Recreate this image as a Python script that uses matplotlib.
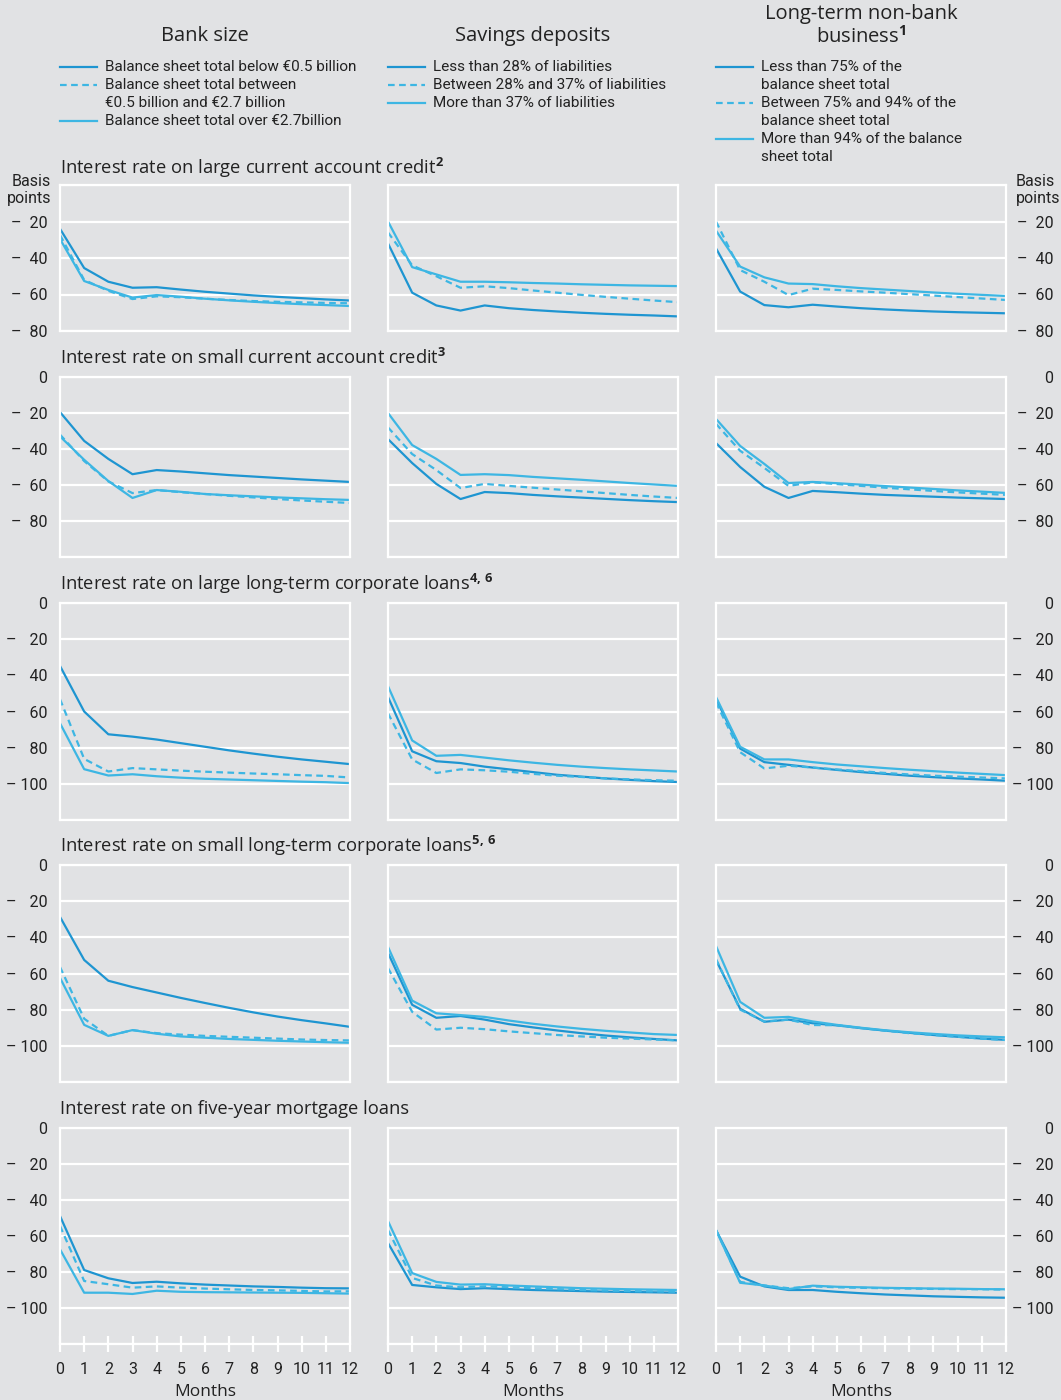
import matplotlib
matplotlib.use('Agg')
import matplotlib.pyplot as plt
from matplotlib.lines import Line2D

W, H = 1061, 1400
BG = '#e1e2e4'
DARK = '#1e95d1'
LIGHT = '#3db6e3'
INK = '#222222'
TITLE_FONT = ['Open Sans', 'DejaVu Sans']
NARROW_FONT = ['Roboto', 'DejaVu Sans']

months = list(range(13))

# column headers and legend labels
col_titles = ['Bank size', 'Savings deposits', 'Long-term non-bank\nbusiness$^\\mathbf{1}$']
size_labels = ['Balance sheet total below €0.5 billion',
               'Balance sheet total between\n€0.5 billion and €2.7 billion',
               'Balance sheet total over €2.7billion']
savings_labels = ['Less than 28% of liabilities',
                  'Between 28% and 37% of liabilities',
                  'More than 37% of liabilities']
nonbank_labels = ['Less than 75% of the\nbalance sheet total',
                  'Between 75% and 94% of the\nbalance sheet total',
                  'More than 94% of the balance\nsheet total']

row_titles = ['Interest rate on large current account credit$^\\mathbf{2}$',
              'Interest rate on small current account credit$^\\mathbf{3}$',
              'Interest rate on large long-term corporate loans$^\\mathbf{4,\\,6}$',
              'Interest rate on small long-term corporate loans$^\\mathbf{5,\\,6}$',
              'Interest rate on five-year mortgage loans']

# each panel: [first solid, dashed, second solid], basis points
large_cur_size = [
    [-24, -45.5, -53, -56.3, -56, -57.3, -58.5, -59.5, -60.5, -61.3, -62, -62.7, -63.3],
    [-27.4, -52, -58, -62.5, -61, -61.5, -62.3, -63, -63.6, -64, -64.3, -64.6, -64.8],
    [-29.6, -52.6, -57.5, -61.7, -60.3, -61.2, -62.3, -63.2, -64, -64.7, -65.3, -65.8, -66.3],
]
large_cur_savings = [
    [-32, -59, -66, -68.8, -66, -67.5, -68.5, -69.3, -70, -70.6, -71.1, -71.5, -72],
    [-26, -44, -50, -56.3, -55.5, -56.5, -57.8, -59, -60.2, -61.3, -62.3, -63.3, -64.2],
    [-20, -45, -49, -53, -53, -53.3, -53.7, -54, -54.4, -54.7, -55, -55.2, -55.4],
]
large_cur_nonbank = [
    [-34.7, -58.4, -65.8, -67, -65.6, -66.6, -67.5, -68.2, -68.8, -69.3, -69.7, -70, -70.3],
    [-20, -46.6, -53, -60.3, -56.8, -57.5, -58.3, -59, -59.8, -60.6, -61.4, -62.2, -63],
    [-25, -44.7, -50.6, -54, -54.3, -55.5, -56.5, -57.3, -58.1, -58.9, -59.6, -60.2, -60.8],
]
small_cur_size = [
    [-19.5, -35.5, -45.5, -54, -51.7, -52.5, -53.5, -54.5, -55.3, -56.1, -56.9, -57.6, -58.3],
    [-32, -46.7, -58, -64.5, -62.8, -64, -65, -66, -66.9, -67.8, -68.6, -69.3, -70],
    [-33, -46, -57.8, -67.2, -62.8, -63.8, -65, -65.7, -66.3, -66.9, -67.4, -67.9, -68.3],
]
small_cur_savings = [
    [-34.5, -47.8, -59.4, -67.8, -63.9, -64.5, -65.5, -66.3, -67, -67.7, -68.4, -69, -69.5],
    [-28, -42.8, -51.7, -61.7, -59.4, -60.5, -61.5, -62.5, -63.5, -64.5, -65.5, -66.4, -67.2],
    [-20, -37.8, -45.5, -54.4, -54, -54.5, -55.5, -56.3, -57.1, -58, -58.9, -59.7, -60.5],
]
small_cur_nonbank = [
    [-36.7, -50, -61, -67.2, -63.3, -64, -64.8, -65.5, -66, -66.5, -67, -67.4, -67.8],
    [-26, -41, -50.5, -60.5, -58.5, -59.5, -60.5, -61.5, -62.4, -63.3, -64.1, -64.8, -65.5],
    [-23.3, -38.3, -48.3, -58.9, -58.3, -59, -59.8, -60.6, -61.4, -62.2, -63, -63.7, -64.4],
]
large_lt_size = [
    [-34.8, -60, -72.6, -73.9, -75.5, -77.5, -79.5, -81.5, -83.3, -85, -86.5, -87.8, -89.1],
    [-53.2, -86.2, -93.2, -91.3, -92, -92.7, -93.3, -93.8, -94.3, -94.7, -95.2, -95.6, -96.5],
    [-66.5, -91.9, -95.4, -94.7, -95.8, -96.6, -97.2, -97.6, -98, -98.4, -98.8, -99.1, -99.6],
]
large_lt_savings = [
    [-52, -82, -87.5, -88.5, -90.5, -92, -93.5, -95, -96, -97, -97.8, -98.5, -99],
    [-61, -86.5, -94, -92, -92.5, -93.3, -94.5, -95.5, -96.2, -97, -97.5, -98, -98.3],
    [-46, -76, -84.5, -84, -85.5, -87, -88.3, -89.5, -90.5, -91.3, -92, -92.6, -93.2],
]
large_lt_nonbank = [
    [-53, -80.5, -88, -89.5, -91, -92.3, -93.5, -94.5, -95.5, -96.3, -97, -97.6, -98.3],
    [-55, -82.5, -91.5, -90, -91, -92, -93, -94, -94.8, -95.5, -96, -96.5, -97],
    [-52, -79.5, -86.5, -86.5, -88, -89.3, -90.3, -91.3, -92.2, -93, -93.8, -94.5, -95.2],
]
small_lt_size = [
    [-28.7, -52.5, -64, -67.5, -70.5, -73.5, -76.3, -79, -81.5, -83.8, -85.8, -87.6, -89.5],
    [-56.4, -85, -94.5, -91.3, -93, -93.8, -94.5, -95, -95.5, -96, -96.5, -96.8, -97],
    [-62.4, -88.4, -94.5, -91.3, -93.3, -94.8, -95.5, -96.2, -96.7, -97.2, -97.6, -98, -98.3],
]
small_lt_savings = [
    [-48.6, -77.3, -84.5, -83.5, -85.5, -88, -89.8, -91.5, -93, -94.3, -95.3, -96.2, -97],
    [-57, -81.2, -91, -90, -90.8, -92, -93, -94, -94.8, -95.5, -96, -96.5, -97],
    [-45.3, -75, -82, -83, -84, -86, -87.8, -89.3, -90.6, -91.7, -92.6, -93.5, -94],
]
small_lt_nonbank = [
    [-52.5, -79.5, -86.7, -85.5, -87.5, -88.7, -90.2, -91.6, -92.8, -94, -95, -96, -96.7],
    [-52, -80, -86.5, -85.5, -88.5, -88.6, -90.2, -91.6, -93, -94, -95, -96, -96.8],
    [-44.8, -75.7, -84.5, -84, -86.5, -88.4, -90, -91.4, -92.5, -93.4, -94.2, -94.8, -95.3],
]
mortgage_size = [
    [-48.9, -78.9, -83.5, -86.1, -85.4, -86.3, -87, -87.5, -88, -88.3, -88.7, -89, -89.1],
    [-54.4, -85, -86.8, -88.7, -88, -88.7, -89.2, -89.6, -90, -90.2, -90.5, -90.8, -90.7],
    [-67.4, -91.5, -91.5, -92.2, -90.4, -91, -91.2, -91.3, -91.4, -91.5, -91.6, -91.8, -92],
]
mortgage_savings = [
    [-63.9, -87.2, -88.5, -89.5, -89, -89.5, -90, -90.3, -90.6, -90.9, -91.1, -91.3, -91.5],
    [-56.7, -83.3, -87.5, -88.5, -88, -88.5, -89, -89.5, -90, -90.3, -90.6, -90.8, -91],
    [-51.7, -80.6, -85.5, -87, -86.8, -87.5, -88, -88.5, -89, -89.3, -89.6, -89.8, -90],
]
mortgage_nonbank = [
    [-56.7, -82.6, -88, -90, -90, -91, -91.8, -92.5, -93, -93.5, -93.8, -94.1, -94.3],
    [-56.7, -85.5, -87.5, -89, -88, -88.5, -88.8, -89, -89.2, -89.4, -89.5, -89.6, -89.8],
    [-56.7, -86, -87.5, -89.5, -87.6, -88.2, -88.5, -88.8, -89, -89.2, -89.3, -89.5, -89.6],
]

panels = [
    [large_cur_size, large_cur_savings, large_cur_nonbank],
    [small_cur_size, small_cur_savings, small_cur_nonbank],
    [large_lt_size, large_lt_savings, large_lt_nonbank],
    [small_lt_size, small_lt_savings, small_lt_nonbank],
    [mortgage_size, mortgage_savings, mortgage_nonbank],
]
y_mins = [-80, -100, -120, -120, -120]
label_mins = [-80, -80, -100, -100, -100]

# layout in pixels
col_x = [(60, 350), (388, 678), (716, 1006)]
row_y = [(185, 331), (377, 557), (603, 820), (865, 1082), (1128, 1344)]
title_y = [168, 358, 584, 846, 1109]


def fx(x):
    return x / W


def fy(y):
    return 1 - y / H


def tick_text(v, wide):
    # "– 20" style labels; in the taller panels the dash keeps its own column
    if v == 0:
        return '0'
    num = str(abs(v))
    if not wide:
        return '–  ' + num
    if len(num) < 3:
        return '– \u2007' + num
    return '– ' + num


plt.rcParams['font.family'] = TITLE_FONT
plt.rcParams['mathtext.fontset'] = 'custom'
plt.rcParams['mathtext.rm'] = 'Open Sans'
plt.rcParams['mathtext.bf'] = 'Open Sans:bold'

fig = plt.figure(figsize=(W / 100, H / 100), dpi=100, facecolor=BG)

styles = [dict(color=DARK, ls='-'),
          dict(color=LIGHT, ls=(0, (3, 2))),
          dict(color=LIGHT, ls='-')]

for r, row in enumerate(panels):
    top, bottom = row_y[r]
    fig.text(fx(60), fy(title_y[r]), row_titles[r], fontsize=13.2,
             color=INK, ha='left', va='center')
    for c, series in enumerate(row):
        x0, x1 = col_x[c]
        ax = fig.add_axes([fx(x0), fy(bottom), fx(x1 - x0), (bottom - top) / H])
        ax.set_facecolor(BG)
        for s, st in zip(series, styles):
            ax.plot(months, s, lw=1.6, solid_capstyle='butt', **st)
        ax.set_xlim(0, 12)
        ax.set_ylim(y_mins[r], 0)
        yt = list(range(0, y_mins[r] - 1, -20))
        ax.set_yticks(yt)
        ax.grid(axis='y', color='white', lw=1.6)
        ax.set_axisbelow(True)
        for sp in ax.spines.values():
            sp.set_color('white')
            sp.set_linewidth(1.6)

        labels = []
        for v in yt:
            if v < label_mins[r] or (r == 0 and v == 0):
                labels.append('')
            else:
                labels.append(tick_text(v, r >= 2))
        ax.set_yticklabels(labels, family=NARROW_FONT, fontsize=11.5, color=INK)
        ax.tick_params(axis='y', length=0)
        if c == 0:
            ax.tick_params(axis='y', pad=9)
        elif c == 2:
            ax.yaxis.tick_right()
            ax.tick_params(axis='y', length=0, pad=34)
            for lab in ax.get_yticklabels():
                lab.set_horizontalalignment('right')
        else:
            ax.tick_params(axis='y', labelleft=False)

        if r == 4:
            ax.set_xticks(months)
            ax.set_xticklabels([str(m) for m in months], family=NARROW_FONT,
                               fontsize=11.5, color=INK)
            ax.tick_params(axis='x', direction='inout', length=11.5, width=1.6,
                           color='white', pad=7)
            ax.set_xlabel('Months', fontsize=12.5, color=INK, labelpad=5)
        else:
            ax.set_xticks([])

# "Basis points" unit labels
fig.text(fx(51), fy(190), 'Basis\npoints', ha='right', va='center', family=NARROW_FONT,
         fontsize=11.5, color=INK, linespacing=1.25)
fig.text(fx(1016), fy(190), 'Basis\npoints', ha='left', va='center', family=NARROW_FONT,
         fontsize=11.5, color=INK, linespacing=1.25)

# column headers
centers = [205, 533, 861]
header_y = [36, 36, 26]
for c in range(3):
    fig.text(fx(centers[c]), fy(header_y[c]), col_titles[c], ha='center', va='center',
             fontsize=14.5, color=INK, linespacing=1.1)

# legends
legend_sets = [size_labels, savings_labels, nonbank_labels]
for c, labs in enumerate(legend_sets):
    x0 = col_x[c][0]
    y = 67
    for lab, st in zip(labs, styles):
        fig.add_artist(Line2D([fx(x0), fx(x0 + 37)], [fy(y), fy(y)],
                              transform=fig.transFigure, lw=1.6, **st))
        fig.text(fx(x0 + 45), fy(y - 7), lab, ha='left', va='top', family=NARROW_FONT,
                 fontsize=11, color=INK, linespacing=1.32)
        y += 18 * (lab.count('\n') + 1)

fig.savefig('out.png', dpi=100, facecolor=BG)
